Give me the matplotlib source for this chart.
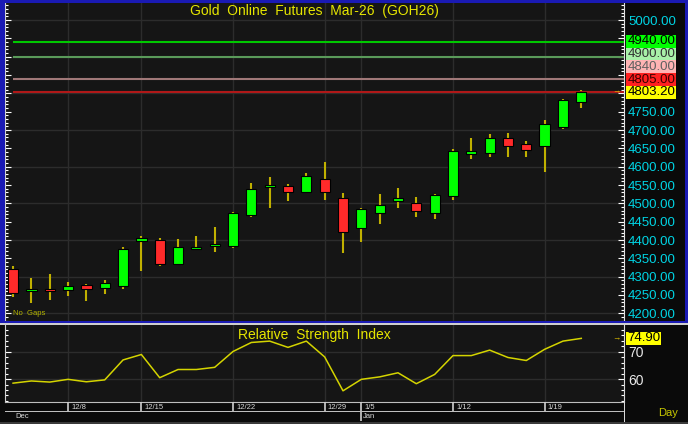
import matplotlib
matplotlib.use("Agg")
import matplotlib.pyplot as plt
from matplotlib.patches import Rectangle
from matplotlib.ticker import MultipleLocator, FixedLocator, FuncFormatter
from matplotlib.transforms import blended_transform_factory

plt.rcParams['font.family'] = ['Liberation Sans', 'DejaVu Sans']

# daily OHLC, Gold futures Mar-26
opens = [4320, 4261, 4267, 4263, 4276, 4268, 4275, 4397, 4401, 4335, 4375, 4384, 4384, 4467, 4545, 4546,
         4532, 4566, 4514, 4432, 4475, 4507, 4501, 4475, 4519, 4634, 4637, 4678, 4663, 4657, 4709, 4777]
highs = [4329, 4296, 4307, 4285, 4280, 4290, 4380, 4412, 4406, 4402, 4410, 4435, 4477, 4555, 4571, 4553,
         4582, 4614, 4529, 4488, 4525, 4541, 4517, 4526, 4648, 4678, 4689, 4691, 4671, 4727, 4784, 4809]
lows = [4245, 4227, 4237, 4248, 4234, 4254, 4265, 4315, 4330, 4332, 4372, 4367, 4377, 4462, 4487, 4506,
        4530, 4510, 4365, 4395, 4445, 4486, 4464, 4457, 4510, 4622, 4627, 4627, 4627, 4585, 4703, 4759]
closes = [4256, 4266, 4261, 4275, 4266, 4282, 4376, 4405, 4335, 4381, 4380, 4386, 4473, 4538, 4551, 4532,
          4576, 4532, 4423, 4485, 4496, 4514, 4479, 4522, 4642, 4642, 4679, 4657, 4645, 4716, 4782, 4803.2]
rsi = [58.5, 59.3, 58.9, 59.9, 59.0, 59.7, 67.0, 69.0, 60.5, 63.5, 63.5, 64.3, 70.1, 73.4, 73.9, 71.6,
       73.9, 68.1, 55.7, 59.9, 60.8, 62.3, 58.3, 61.7, 68.6, 68.6, 70.6, 67.9, 66.8, 70.9, 73.9, 74.9]

# horizontal price levels (value, line colour, box colour, text colour)
levels = [4940, 4900, 4840, 4805]
level_line_colors = ['#00c800', '#5a9a5a', '#a07878', '#b01818']
level_box_colors = ['#00ff00', '#a8f0a8', '#ffb4b4', '#ff2020']
level_text_colors = ['#000000', '#303030', '#606060', '#3a0000']

date_ticks = [3, 7, 12, 17, 19, 24, 29]
date_labels = ['12/8', '12/15', '12/22', '12/29', '1/5', '1/12', '1/19']
month_ticks = [0, 19]
month_labels = ['Dec', 'Jan']

W, H = 688, 424
fig = plt.figure(figsize=(W / 100, H / 100), dpi=100, facecolor='#0a0a0a')


def px_axes(x0, y0, x1, y1):
    return fig.add_axes([x0 / W, 1 - y1 / H, (x1 - x0) / W, (y1 - y0) / H])


def px_rect(x0, y0, x1, y1, color):
    fig.patches.append(Rectangle((x0 / W, 1 - y1 / H), (x1 - x0) / W, (y1 - y0) / H,
                                 transform=fig.transFigure, color=color, lw=0, zorder=5))


xlim = (-0.44, 33.33)
grid_c = '#2c2c2c'
cyan = '#00d4e4'
yellow = '#e6e600'

# ---------------- price panel ----------------
ax = px_axes(5, 3, 624, 321)
ax.set_facecolor('#151515')
ax.set_xlim(*xlim)
ax.set_ylim(4179, 5046.7)
x = list(range(len(closes)))

ax.vlines(x, lows, highs, color='#c0b000', lw=1.5, zorder=2)
for i in x:
    up = closes[i] >= opens[i]
    bottom = min(opens[i], closes[i])
    height = max(abs(closes[i] - opens[i]), 4)
    ax.bar(i, height, bottom=bottom, width=0.56, color='#00ff00' if up else '#ff2a2a',
           edgecolor='black', linewidth=0.8, zorder=3)

for val, lc in zip(levels, level_line_colors):
    ax.plot([0, xlim[1]], [val, val], color=lc, lw=1.5, zorder=2.5, solid_capstyle='butt')

# scale labels hidden behind the stacked value boxes are left blank
hidden = {4800, 4850, 4900, 4950}
ax.yaxis.tick_right()
ax.yaxis.set_major_locator(MultipleLocator(50))
ax.yaxis.set_minor_locator(MultipleLocator(10))
ax.yaxis.set_major_formatter(FuncFormatter(lambda v, p: '' if round(v) in hidden else f'{v:.2f}'))
ax.tick_params(axis='y', which='both', direction='in', left=True, right=True, colors='white',
               labelcolor=cyan, labelsize=9.5, pad=3)
ax.tick_params(axis='y', which='major', length=4, width=0.8)
ax.tick_params(axis='y', which='minor', length=2.5, width=0.8)
ax.set_xticks(date_ticks)
ax.tick_params(axis='x', length=0, labelbottom=False)
for val in range(4200, 5001, 100):
    ax.axhline(val, color=grid_c, lw=1, zorder=0.5)
for t in date_ticks:
    ax.axvline(t, color=grid_c, lw=1, zorder=0.5)
for side in ['top', 'bottom']:
    ax.spines[side].set_visible(False)
ax.spines['left'].set_color('#cfcfcf')
ax.spines['right'].set_color('#e0e0e0')

ax.text(0.5, 0.975, 'Gold  Online  Futures  Mar-26  (GOH26)', transform=ax.transAxes,
        ha='center', va='center', color=yellow, fontsize=10)
ax.text(0.013, 0.014, 'No  Gaps', transform=ax.transAxes, ha='left', va='bottom',
        color='#b4b400', fontsize=5.5)

# stacked value boxes on the price scale
trans = blended_transform_factory(ax.transAxes, ax.transData)
units_per_px = (5046.7 - 4179) / 318
box_h = 12.7 * units_per_px
box_x0 = 1 + 1.5 / 619
box_w = 50.5 / 619
label_vals = [closes[-1]] + levels[::-1]
label_box = ['#ffff00'] + level_box_colors[::-1]
label_txt = ['#000000'] + level_text_colors[::-1]
prev = None
for val, bc, tc in zip(label_vals, label_box, label_txt):
    yc = val if prev is None else max(val, prev + box_h)
    prev = yc
    ax.add_patch(Rectangle((box_x0, yc - box_h / 2), box_w, box_h, transform=trans,
                           facecolor=bc, edgecolor='none', clip_on=False, zorder=10))
    ax.text(box_x0 + 2 / 619, yc, f'{val:.2f}', transform=trans, ha='left', va='center',
            color=tc, fontsize=9.5, clip_on=False, zorder=11)
ax.text(1 - 8 / 619, closes[-1], '→', transform=trans, ha='center', va='center',
        color='#e0c000', fontsize=6, zorder=11)

# ---------------- RSI panel ----------------
rx = px_axes(5, 325, 624, 402)
rx.set_facecolor('#151515')
rx.set_xlim(*xlim)
rx.set_ylim(51.6, 79.8)
rx.plot(x, rsi, color='#d4d400', lw=1.1, zorder=3)
for val in [60, 70]:
    rx.axhline(val, color=grid_c, lw=1, zorder=0.5)
for t in date_ticks:
    rx.axvline(t, color=grid_c, lw=1, zorder=0.5)
rx.yaxis.tick_right()
rx.yaxis.set_major_locator(FixedLocator([60, 70]))
rx.yaxis.set_minor_locator(MultipleLocator(2))
rx.tick_params(axis='y', which='both', direction='in', left=True, right=True, colors='white',
               labelcolor='#e8e8e8', labelsize=10, pad=3)
rx.tick_params(axis='y', which='major', length=4, width=0.8)
rx.tick_params(axis='y', which='minor', length=2.5, width=0.8)
rx.tick_params(axis='x', length=0, labelbottom=False)
rx.spines['top'].set_visible(False)
rx.spines['bottom'].set_color('#bdbdbd')
rx.spines['left'].set_color('#cfcfcf')
rx.spines['right'].set_color('#e0e0e0')
rx.text(0.5, 0.87, 'Relative  Strength  Index', transform=rx.transAxes, ha='center', va='center',
        color=yellow, fontsize=10)
rtrans = blended_transform_factory(rx.transAxes, rx.transData)
rbox_h = 12.5 * (79.8 - 51.6) / 77
rx.add_patch(Rectangle((box_x0, rsi[-1] - rbox_h / 2), 35 / 619, rbox_h, transform=rtrans,
                       facecolor='#ffff00', edgecolor='none', clip_on=False, zorder=10))
rx.text(box_x0 + 1.5 / 619, rsi[-1], f'{rsi[-1]:.2f}', transform=rtrans, ha='left', va='center',
        color='#000000', fontsize=9.5, clip_on=False, zorder=11)
rx.text(1 - 8 / 619, rsi[-1], '→', transform=rtrans, ha='center', va='center',
        color='#e0c000', fontsize=6, zorder=11)

# ---------------- date rows ----------------
dx = px_axes(5, 402, 624, 412)
dx.set_facecolor('#101010')
dx.set_xlim(*xlim)
dx.set_ylim(0, 1)
dx.axis('off')
dx.vlines(date_ticks, 0, 1, color='#d0d0d0', lw=1.2)
for t, lab in zip(date_ticks, date_labels):
    dx.text(t + 0.17, 0.45, lab, ha='left', va='center', color='#d8d8d8', fontsize=5.5)

mx = px_axes(5, 412, 624, 421)
mx.set_facecolor('#101010')
mx.set_xlim(*xlim)
mx.set_ylim(0, 1)
mx.axis('off')
mx.vlines(month_ticks[1:], 0, 1, color='#d0d0d0', lw=1.2)
for t, lab in zip(month_ticks, month_labels):
    mx.text(t + 0.1, 0.5, lab, ha='left', va='center', color='#d8d8d8', fontsize=5.5)

fig.text(668 / W, 1 - 413 / H, 'Day', ha='center', va='center', color='#c8c800', fontsize=8)

# frames
blue = '#1a1ab4'
px_rect(0, 0, 4.5, 322.5, blue)
px_rect(0, 0, 688, 2.5, blue)
px_rect(685, 0, 688, 322.5, blue)
px_rect(0, 320.5, 688, 322.5, blue)
px_rect(0, 323, 688, 324.5, '#cfcfcf')
px_rect(5, 411.3, 624, 412.3, '#bdbdbd')
px_rect(623.5, 324, 624.5, 424, '#d8d8d8')
px_rect(0, 421.5, 688, 424, '#3a3a3a')

fig.savefig('out.png', dpi=100, facecolor=fig.get_facecolor())
plt.close(fig)
